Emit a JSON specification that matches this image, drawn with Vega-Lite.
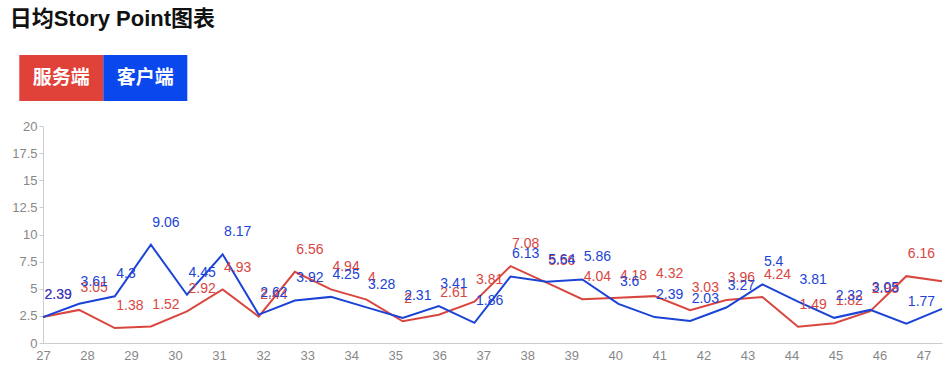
{
  "$schema": "https://vega.github.io/schema/vega-lite/v6.json",
  "padding": {"left": 9, "top": 8, "right": 0, "bottom": 0},
  "title": {"text": "日均Story Point图表", "anchor": "start", "fontSize": 22, "fontWeight": "bold", "font": "Liberation Sans, Noto Sans CJK SC", "color": "#111", "dx": -2, "offset": 24},
  "config": {"view": {"stroke": null}, "font": "Liberation Sans", "concat": {"spacing": 19}},
  "resolve": {"scale": {"x": "independent", "y": "independent", "color": "independent"}},
  "datasets": {
    "legend": [{"s": "服务端"}, {"s": "客户端"}],
    "pts": [
      {"x": 27, "s": "服务端", "v": 2.39}, {"x": 27, "s": "客户端", "v": 2.39},
      {"x": 27.82, "s": "服务端", "v": 3.05}, {"x": 27.82, "s": "客户端", "v": 3.61},
      {"x": 28.63, "s": "服务端", "v": 1.38}, {"x": 28.63, "s": "客户端", "v": 4.3},
      {"x": 29.45, "s": "服务端", "v": 1.52}, {"x": 29.45, "s": "客户端", "v": 9.06},
      {"x": 30.27, "s": "服务端", "v": 2.92}, {"x": 30.27, "s": "客户端", "v": 4.45},
      {"x": 31.08, "s": "服务端", "v": 4.93}, {"x": 31.08, "s": "客户端", "v": 8.17},
      {"x": 31.9, "s": "服务端", "v": 2.44}, {"x": 31.9, "s": "客户端", "v": 2.62},
      {"x": 32.72, "s": "服务端", "v": 6.56}, {"x": 32.72, "s": "客户端", "v": 3.92},
      {"x": 33.54, "s": "服务端", "v": 4.94}, {"x": 33.54, "s": "客户端", "v": 4.25},
      {"x": 34.35, "s": "服务端", "v": 4}, {"x": 34.35, "s": "客户端", "v": 3.28},
      {"x": 35.17, "s": "服务端", "v": 2}, {"x": 35.17, "s": "客户端", "v": 2.31},
      {"x": 35.99, "s": "服务端", "v": 2.61}, {"x": 35.99, "s": "客户端", "v": 3.41},
      {"x": 36.8, "s": "服务端", "v": 3.81}, {"x": 36.8, "s": "客户端", "v": 1.86},
      {"x": 37.62, "s": "服务端", "v": 7.08}, {"x": 37.62, "s": "客户端", "v": 6.13},
      {"x": 38.44, "s": "服务端", "v": 5.56}, {"x": 38.44, "s": "客户端", "v": 5.64},
      {"x": 39.25, "s": "服务端", "v": 4.04}, {"x": 39.25, "s": "客户端", "v": 5.86},
      {"x": 40.07, "s": "服务端", "v": 4.18}, {"x": 40.07, "s": "客户端", "v": 3.6},
      {"x": 40.89, "s": "服务端", "v": 4.32}, {"x": 40.89, "s": "客户端", "v": 2.39},
      {"x": 41.7, "s": "服务端", "v": 3.03}, {"x": 41.7, "s": "客户端", "v": 2.03},
      {"x": 42.52, "s": "服务端", "v": 3.96}, {"x": 42.52, "s": "客户端", "v": 3.27},
      {"x": 43.34, "s": "服务端", "v": 4.24}, {"x": 43.34, "s": "客户端", "v": 5.4},
      {"x": 44.15, "s": "服务端", "v": 1.49}, {"x": 44.15, "s": "客户端", "v": 3.81},
      {"x": 44.97, "s": "服务端", "v": 1.82}, {"x": 44.97, "s": "客户端", "v": 2.32},
      {"x": 45.79, "s": "服务端", "v": 2.93}, {"x": 45.79, "s": "客户端", "v": 3.05},
      {"x": 46.61, "s": "服务端", "v": 6.16}, {"x": 46.61, "s": "客户端", "v": 1.77},
      {"x": 47.42, "s": "服务端", "v": 5.69}, {"x": 47.42, "s": "客户端", "v": 3.14}
    ]
  },
  "vconcat": [
    {
      "width": 168,
      "height": 46,
      "data": {"name": "legend"},
      "layer": [
        {
          "mark": {"type": "rect", "xOffset": -23.7},
          "encoding": {
            "x": {"field": "s", "type": "nominal", "sort": null, "scale": {"type": "band", "paddingInner": 0, "paddingOuter": 0}, "axis": null},
            "color": {"field": "s", "type": "nominal", "scale": {"domain": ["服务端", "客户端"], "range": ["#e0423a", "#0a48ee"]}, "legend": null}
          }
        },
        {
          "mark": {"type": "text", "color": "white", "fontSize": 19, "font": "Noto Sans CJK SC", "fontWeight": "bold", "baseline": "middle", "dx": -23.7},
          "encoding": {
            "x": {"field": "s", "type": "nominal", "sort": null, "bandPosition": 0.5, "axis": null},
            "text": {"field": "s"}
          }
        }
      ]
    },
    {
      "width": 899,
      "height": 217,
      "data": {"name": "pts"},
      "encoding": {
        "x": {"field": "x", "type": "quantitative", "scale": {"domain": [27, 47.42], "nice": false, "zero": false},
          "axis": {"values": [27, 28, 29, 30, 31, 32, 33, 34, 35, 36, 37, 38, 39, 40, 41, 42, 43, 44, 45, 46, 47], "format": "d", "grid": false, "ticks": false, "labelPadding": 6, "labelFontSize": 13, "labelColor": "#888", "domainColor": "#ccc", "title": null, "labelFlush": false}},
        "y": {"field": "v", "type": "quantitative", "scale": {"domain": [0, 20], "nice": false},
          "axis": {"values": [0, 2.5, 5, 7.5, 10, 12.5, 15, 17.5, 20], "format": ".3~g", "grid": false, "tickSize": 4, "tickColor": "#ccc", "domainColor": "#ccc", "labelColor": "#888", "labelFontSize": 13, "labelPadding": 2, "title": null}},
        "color": {"field": "s", "type": "nominal", "scale": {"domain": ["服务端", "客户端"], "range": ["#d9463f", "#1b43d6"]}, "legend": null}
      },
      "layer": [
        {"mark": {"type": "line", "strokeWidth": 2}},
        {
          "transform": [{"filter": "datum.x < 47.3"}],
          "mark": {"type": "text", "align": "left", "baseline": "middle", "dx": 1.5, "dy": -22, "fontSize": 14},
          "encoding": {"text": {"field": "v", "type": "nominal"}}
        }
      ]
    }
  ]
}
